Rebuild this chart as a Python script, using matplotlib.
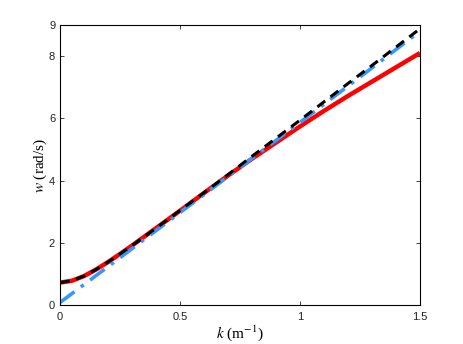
import matplotlib
matplotlib.use('Agg')
import matplotlib.pyplot as plt

plt.rcParams.update({"font.family": "Liberation Sans", "mathtext.fontset": "stix"})

# wavenumber samples (1/m)
k = [0.0, 0.05, 0.1, 0.15, 0.2, 0.25, 0.3, 0.35, 0.4, 0.45, 0.5,
     0.6, 0.7, 0.8, 0.9, 1.0, 1.1, 1.2, 1.3, 1.4, 1.5]

# full dispersion curve (red)
w_full = [0.72, 0.78, 0.93, 1.14, 1.38, 1.64, 1.91, 2.19, 2.47, 2.75, 3.03,
          3.60, 4.16, 4.70, 5.22, 5.74, 6.24, 6.72, 7.18, 7.64, 8.10]
# approximation (black dashed)
w_approx = [0.72, 0.78, 0.93, 1.14, 1.38, 1.64, 1.91, 2.19, 2.47, 2.75, 3.04,
            3.61, 4.19, 4.78, 5.36, 5.94, 6.53, 7.12, 7.70, 8.29, 8.88]
# long-wave limit (blue dash-dot)
k_lin = [0.0, 0.25, 0.5, 0.75, 1.0, 1.25, 1.5]
w_lin = [0.08, 1.52, 2.97, 4.42, 5.87, 7.33, 8.80]

fig = plt.figure(figsize=(4.63, 3.44), dpi=100)
ax = fig.add_axes([60/463, 1-305/344, 360/463, 280/344])

ax.plot(k, w_full, color='#ff0000', lw=3.2, solid_capstyle='butt')
ax.plot(k_lin, w_lin, color='#3399ff', lw=2.6, linestyle=(0, (5, 2.2, 1, 2.2)))
ax.plot(k, w_approx, color='k', lw=2.2, linestyle=(0, (3.2, 2.2)))

ax.set_xlim(0, 1.5)
ax.set_ylim(0, 9)
ax.set_xticks([0, 0.5, 1, 1.5])
ax.set_xticklabels(['0', '0.5', '1', '1.5'])
ax.set_yticks([0, 2, 4, 6, 8, 9])
ax.tick_params(axis='both', which='both', direction='in', top=True, right=True,
               length=3, width=0.6, labelsize=8, colors='#222222')
ax.tick_params(axis='x', pad=5)
for s in ax.spines.values():
    s.set_linewidth(0.8)

ax.set_xlabel(r'$k$ (m$^{-1}$)', fontsize=11, family='Liberation Serif', labelpad=1)
ax.set_ylabel(r'$w$ (rad/s)', fontsize=11, family='Liberation Serif', labelpad=0)

fig.savefig('out.png', dpi=100)
